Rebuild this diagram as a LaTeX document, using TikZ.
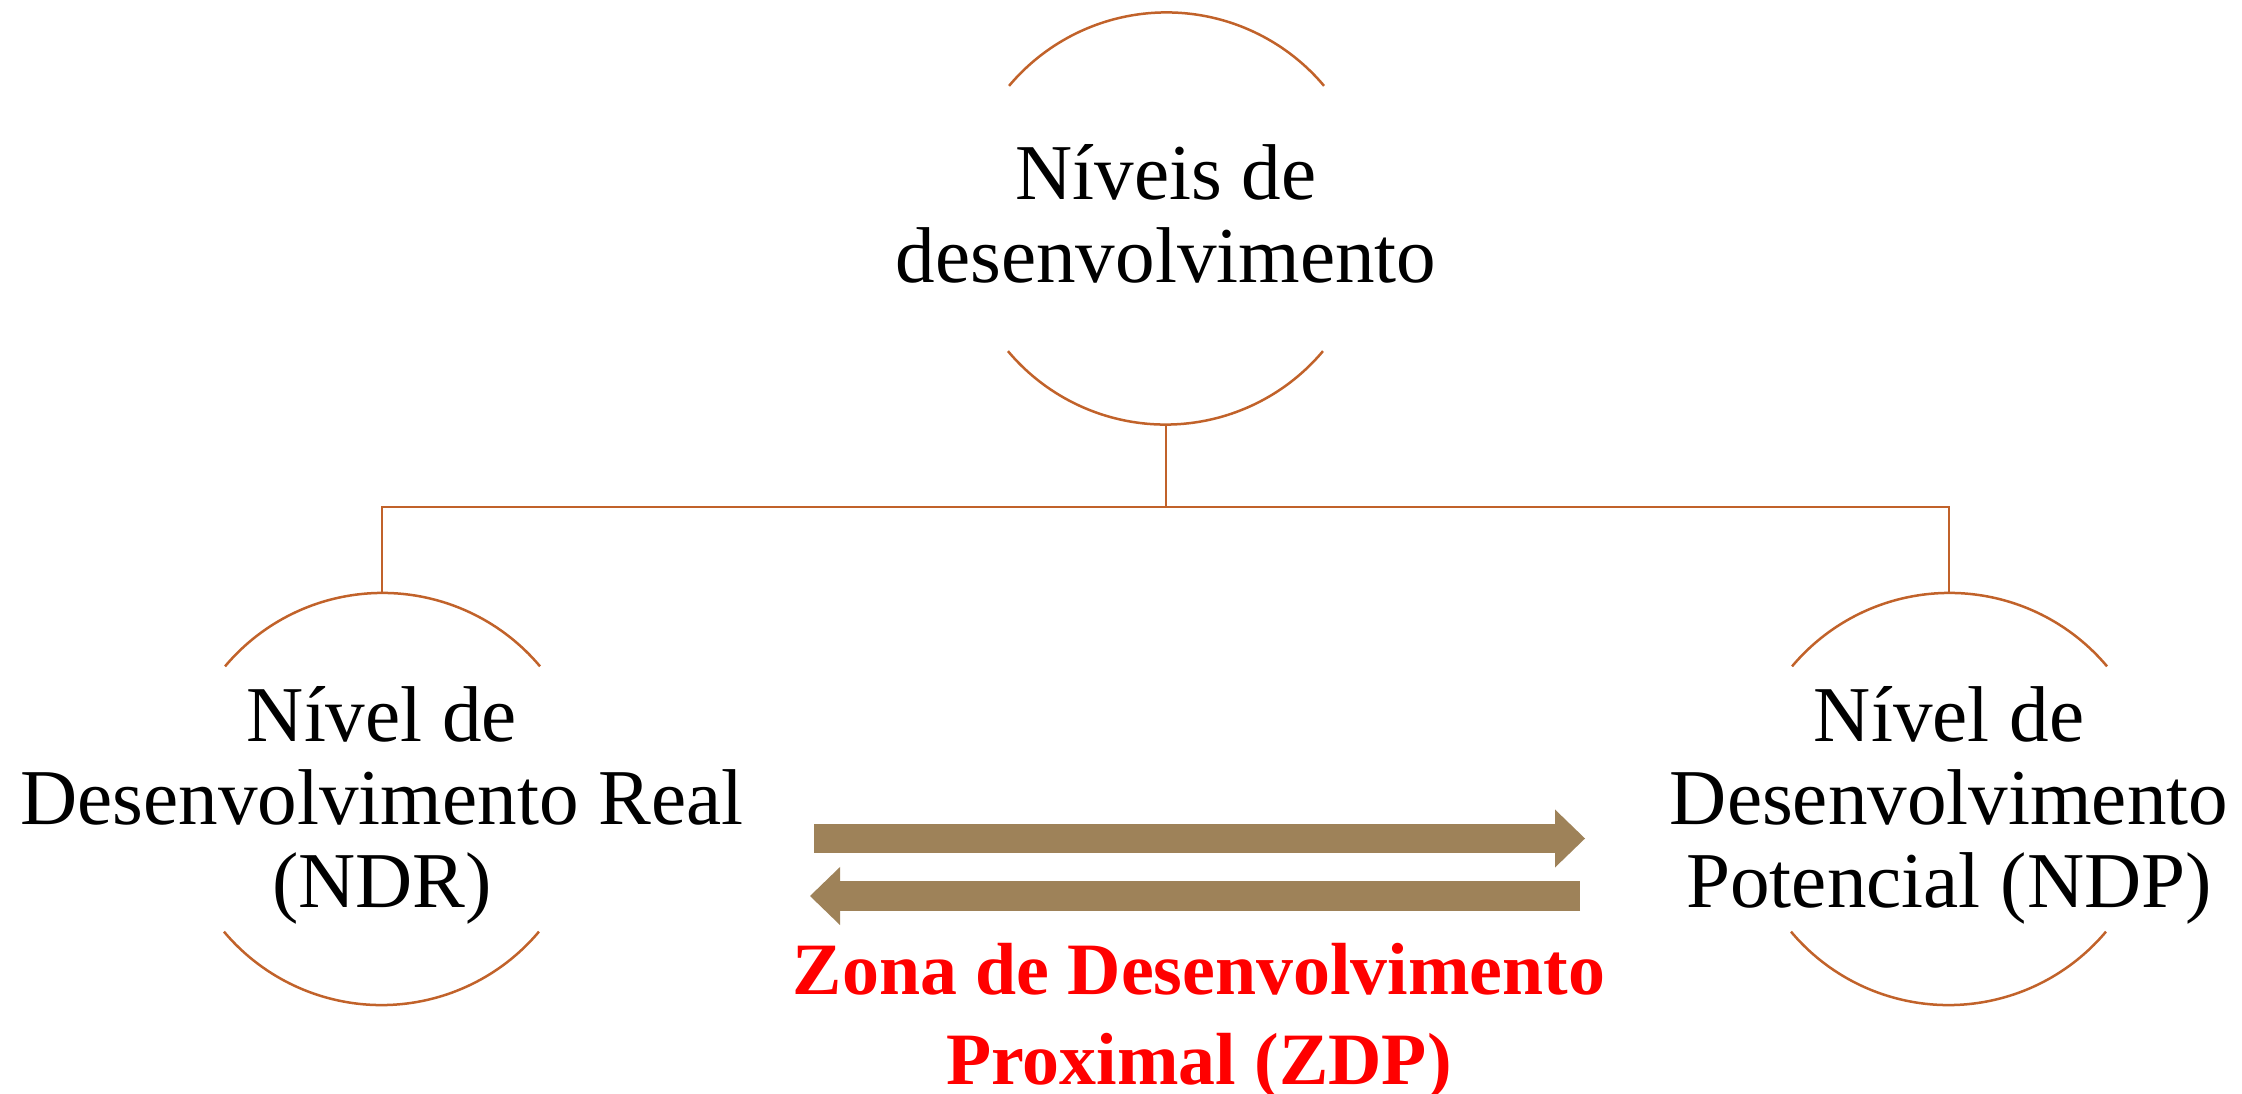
\documentclass[tikz,border=0pt]{standalone}
\usepackage{fontspec}
\setmainfont{Liberation Serif}
\usetikzlibrary{arrows.meta}
\definecolor{linec}{RGB}{193,98,42}
\definecolor{arrowc}{RGB}{158,130,89}
\definecolor{zdpred}{RGB}{255,0,0}
\begin{document}
\begin{tikzpicture}[x=0.01cm,y=-0.01cm,
  ring/.style={circle, minimum size=4.11cm, inner sep=0pt},
  arcline/.style={draw=linec, line width=0.025cm},
  lbl/.style={align=center, inner sep=0pt, font=\fontsize{22.5}{23.6}\selectfont},
  zdp/.style={align=center, inner sep=0pt, text=zdpred, font=\fontsize{21}{25.6}\selectfont\bfseries},
  bigarrow/.style={draw=arrowc, line width=0.29cm, -{Triangle[length=0.30cm, width=0.58cm, line width=0pt]}}]
\useasboundingbox (0,0) rectangle (2242,1094);
% rings
\node[ring] (top) at (1166,218.5) {};
\node[ring] (ndr) at (382,799) {};
\node[ring] (ndp) at (1949,799) {};
\foreach \n in {top,ndr,ndp}{
  \draw[arcline] (\n.40) arc[start angle=40,end angle=140,radius=2.055cm];
  \draw[arcline] (\n.220) arc[start angle=220,end angle=320,radius=2.055cm];
}
% texts
\node[lbl] (toptext) at (1166,214) {Níveis de\\desenvolvimento};
\node[lbl] (ndrtext) at (382,805) {Nível de\\Desenvolvimento Real\\(NDR)};
\node[lbl] (ndptext) at (1949,805) {Nível de\\Desenvolvimento\\Potencial (NDP)};
% connectors
\coordinate (bus) at (1166,507);
\draw[arcline] (top.south) -- (bus);
\draw[arcline] (ndr.north) |- (bus) -| (ndp.north);
% arrows
\coordinate (r1) at (814,838.5);
\coordinate (r2) at (1585,838.5);
\coordinate (l1) at (1580,896);
\coordinate (l2) at (810,896);
\draw[bigarrow] (r1) -- (r2);
\draw[bigarrow] (l1) -- (l2);
% ZDP label
\node[zdp] (zdptext) at (1199,1022) {Zona de Desenvolvimento\\Proximal (ZDP)};
\end{tikzpicture}
\end{document}
